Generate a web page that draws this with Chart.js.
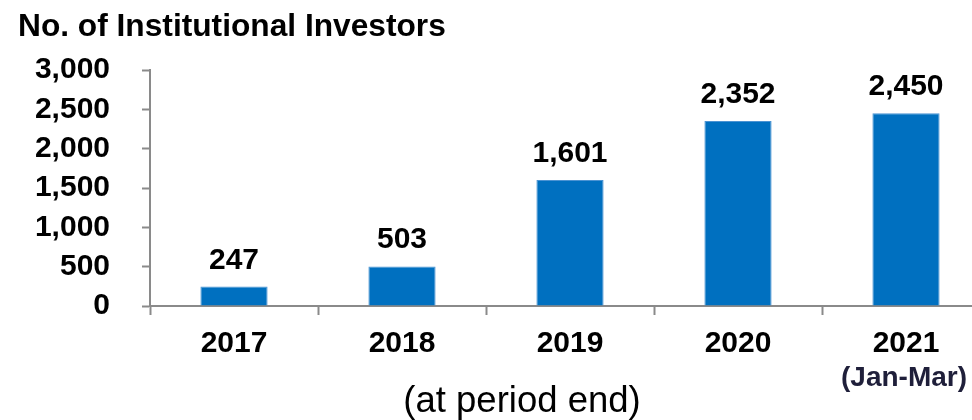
<!DOCTYPE html>
<html>
<head>
<meta charset="utf-8">
<script src="https://cdn.jsdelivr.net/npm/chart.js@4/dist/chart.umd.min.js"></script>
<style>
html, body { margin: 0; padding: 0; background: #fff; overflow: hidden; width: 972px; height: 420px; }
#wrap { position: relative; width: 1000px; height: 420px; }
</style>
</head>
<body>
<div id="wrap"><canvas id="c" width="1000" height="420"></canvas></div>
<script>
const categories = ['2017', '2018', '2019', '2020', '2021'];
const subLabels = ['', '', '', '', '(Jan-Mar)'];
const investors = [247, 503, 1601, 2352, 2450];
const yTicks = [0, 500, 1000, 1500, 2000, 2500, 3000];
const titleText = 'No. of Institutional Investors';
const footText = '(at period end)';

const FONT = '"Liberation Sans", Arial, Helvetica, sans-serif';
const AXIS = '#8a8a8a';

const overlay = {
  id: 'overlay',
  afterDatasetsDraw(chart) {
    const ctx = chart.ctx;
    const meta = chart.getDatasetMeta(0);
    ctx.save();
    ctx.fillStyle = '#000';
    ctx.textAlign = 'center';
    ctx.textBaseline = 'alphabetic';
    ctx.font = 'bold 30px ' + FONT;
    meta.data.forEach((bar, i) => {
      ctx.fillText(investors[i].toLocaleString('en-US'), bar.x, bar.y - 18);
    });
    const xs = chart.scales.x;
    ctx.font = 'bold 28px ' + FONT;
    ctx.fillStyle = '#1f1f3a';
    subLabels.forEach((s, i) => {
      if (s) ctx.fillText(s, xs.getPixelForValue(i) - 2, 386);
    });
    ctx.fillStyle = '#000';
    ctx.textAlign = 'left';
    ctx.font = 'bold 31.7px ' + FONT;
    ctx.fillText(titleText, 18, 36);
    ctx.textAlign = 'center';
    ctx.font = '36.5px ' + FONT;
    ctx.fillText(footText, 522, 412);
    ctx.restore();
  }
};

new Chart(document.getElementById('c'), {
  type: 'bar',
  data: {
    labels: categories,
    datasets: [{
      data: investors,
      backgroundColor: '#0070C0',
      borderColor: '#4b93d3',
      borderWidth: 1,
      barPercentage: 0.4,
      categoryPercentage: 1.0
    }]
  },
  options: {
    responsive: false,
    animation: false,
    layout: { padding: { top: 70, right: 10, bottom: 0, left: 0 } },
    plugins: { legend: { display: false }, tooltip: { enabled: false } },
    scales: {
      x: {
        afterFit: s => { s.height = 114; },
        border: { display: true, color: AXIS, width: 2 },
        grid: { display: true, drawOnChartArea: false, drawTicks: true, tickLength: 9, tickWidth: 2, tickColor: AXIS, offset: true },
        ticks: { color: '#000', font: { family: FONT, size: 30, weight: 'bold' }, padding: 11, maxRotation: 0 }
      },
      y: {
        min: 0, max: 3000,
        afterFit: s => { s.width = 150; },
        afterBuildTicks: s => { s.ticks = yTicks.map(v => ({ value: v })); },
        border: { display: true, color: AXIS, width: 2 },
        grid: { display: true, drawOnChartArea: false, drawTicks: true, tickLength: 8, tickWidth: 2, tickColor: AXIS },
        ticks: {
          color: '#000', font: { family: FONT, size: 30, weight: 'bold' }, padding: 32,
          callback: v => Number(v).toLocaleString('en-US')
        }
      }
    }
  },
  plugins: [overlay]
});
</script>
</body>
</html>
